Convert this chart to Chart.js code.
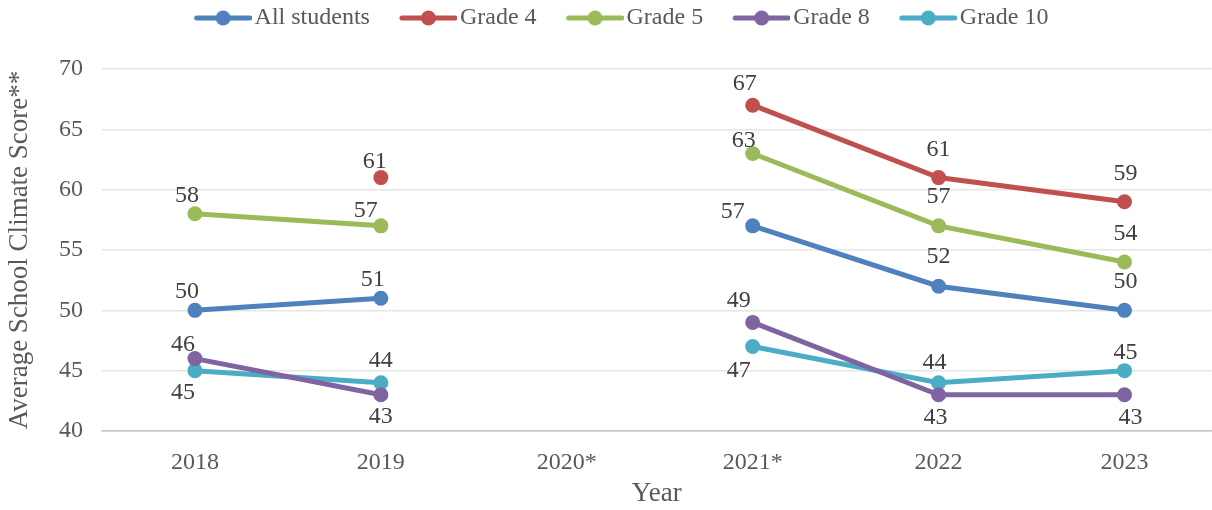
<!DOCTYPE html>
<html lang="en">
  <head>
    <meta charset="utf-8">
    <title>School Climate</title>
    <script src="https://cdn.jsdelivr.net/npm/chart.js@4.4.1/dist/chart.umd.min.js"></script>
    <style>
      html, body { margin: 0; padding: 0; background: #fff; overflow: hidden; }
      #wrap { width: 1212px; height: 510px; overflow: hidden; position: relative; }
      canvas { display: block; }
    </style>
  </head>
  <body>
    <div id="wrap"><canvas id="chart" width="1219" height="510"></canvas></div>

    <script type="text/javascript">

    var years = ["2018", "2019", "2020*", "2021*", "2022", "2023"]

    var allStudents = [50, 51, null, 57, 52, 50]
    var grade4 = [null, 61, null, 67, 61, 59]
    var grade5 = [58, 57, null, 63, 57, 54]
    var grade8 = [46, 43, null, 49, 43, 43]
    var grade10 = [45, 44, null, 47, 44, 45]

    var seriesNames = ["All students", "Grade 4", "Grade 5", "Grade 8", "Grade 10"]
    var seriesColors = ["#4F81BD", "#C0504D", "#9BBB59", "#8064A2", "#4BACC6"]

    // value label nudges [dx, dy] from the point (pixels), as placed in the original
    var labelNudge = [
      [[-8, -20], [-8, -20], null, [-20, -16], [0, -31], [1, -30]],
      [null, [-6, -18], null, [-8, -23], [0, -30], [1, -30]],
      [[-8, -20], [-15, -17], null, [-9, -14], [0, -31], [1, -30]],
      [[-12, -16], [0, 20], null, [-14, -23], [-3, 21], [6, 21]],
      [[-12, 20], [0, -24], null, [-14, 22], [-4, -22], [1, -20]]
    ]

    var FONT = "'Liberation Serif', 'Times New Roman', serif"

    // legend swatch: line with a dot, drawn on the right part of a wider image
    function swatch(color) {
      var c = document.createElement('canvas')
      c.width = 90
      c.height = 16
      var g = c.getContext('2d')
      g.strokeStyle = color
      g.lineWidth = 5
      g.lineCap = 'round'
      g.beginPath()
      g.moveTo(35, 8)
      g.lineTo(88, 8)
      g.stroke()
      g.fillStyle = color
      g.beginPath()
      g.arc(61.5, 8, 7.5, 0, Math.PI * 2)
      g.fill()
      return c
    }

    var valueLabels = {
      id: 'valueLabels',
      afterDatasetsDraw: function(chart) {
        var ctx = chart.ctx
        ctx.save()
        ctx.font = "24px " + FONT
        ctx.fillStyle = "#404040"
        ctx.textAlign = "center"
        ctx.textBaseline = "alphabetic"
        chart.data.datasets.forEach(function(ds, i) {
          var meta = chart.getDatasetMeta(i)
          meta.data.forEach(function(pt, j) {
            var v = ds.data[j].y
            if (v === null) return
            var n = labelNudge[i][j] || [0, -22]
            // digits are ~16px tall, so baseline sits 8px under their middle
            ctx.fillText(String(v), pt.x + n[0], pt.y + n[1] + 8)
          })
        })
        ctx.restore()
      }
    }

    var legendHeight = {
      id: 'legendHeight',
      afterInit: function(chart) {
        var fit = chart.legend.fit
        chart.legend.fit = function() {
          fit.call(this)
          this.height = 69
        }
      }
    }

    var series = [allStudents, grade4, grade5, grade8, grade10]
    var datasets = series.map(function(d, i) {
      return {
        label: seriesNames[i],
        data: d.map(function(v, k) { return { x: k, y: v } }),
        borderColor: seriesColors[i],
        backgroundColor: seriesColors[i],
        pointBackgroundColor: seriesColors[i],
        pointBorderWidth: 0,
        borderWidth: 5,
        pointRadius: 7.5,
        pointHoverRadius: 7.5,
        spanGaps: false,
        tension: 0
      }
    })

    var ctx = document.getElementById('chart').getContext('2d')
    var chart = new Chart(ctx, {
      type: 'line',
      data: {
        datasets: datasets
      },
      plugins: [valueLabels, legendHeight],
      options: {
        responsive: false,
        animation: false,
        layout: { padding: 0 },
        plugins: {
          tooltip: { enabled: false },
          legend: {
            position: 'top',
            labels: {
              font: { family: FONT, size: 24 },
              color: "#595959",
              usePointStyle: true,
              pointStyleWidth: 72,
              padding: 6,
              generateLabels: function(chart) {
                return chart.data.datasets.map(function(ds, i) {
                  return {
                    text: ds.label,
                    pointStyle: swatch(seriesColors[i]),
                    fillStyle: seriesColors[i],
                    strokeStyle: seriesColors[i],
                    lineWidth: 0,
                    fontColor: "#595959",
                    datasetIndex: i
                  }
                })
              }
            }
          }
        },
        scales: {
          x: {
            type: 'linear',
            // half a category each side; the original plot runs slightly past the right edge
            min: -0.5,
            max: 5.468,
            afterBuildTicks: function(s) {
              s.ticks = years.map(function(y, k) { return { value: k } })
            },
            afterFit: function(s) { s.height = 79 },
            grid: { display: false, drawTicks: false },
            border: { display: true, color: "#c8c8c8", width: 1.5 },
            ticks: {
              color: "#595959",
              font: { family: FONT, size: 24 },
              padding: 17,
              maxRotation: 0,
              autoSkip: false,
              callback: function(v) { return years[v] }
            },
            title: {
              display: true,
              text: "Year",
              color: "#595959",
              font: { family: FONT, size: 27 },
              padding: { top: 0, bottom: 0 }
            }
          },
          y: {
            min: 40,
            max: 70,
            afterFit: function(s) { s.width = 102 },
            grid: {
              drawTicks: false,
              color: function(c) { return c.tick && c.tick.value === 40 ? "#c8c8c8" : "#e6e6e6" },
              lineWidth: 1.5
            },
            border: { display: false },
            ticks: {
              stepSize: 5,
              color: "#595959",
              font: { family: FONT, size: 24 },
              padding: 19
            },
            title: {
              display: true,
              text: "Average School Climate Score**",
              color: "#595959",
              font: { family: FONT, size: 27 },
              padding: { top: 4, bottom: 0 }
            }
          }
        }
      }
    })

    </script>
  </body>
</html>
